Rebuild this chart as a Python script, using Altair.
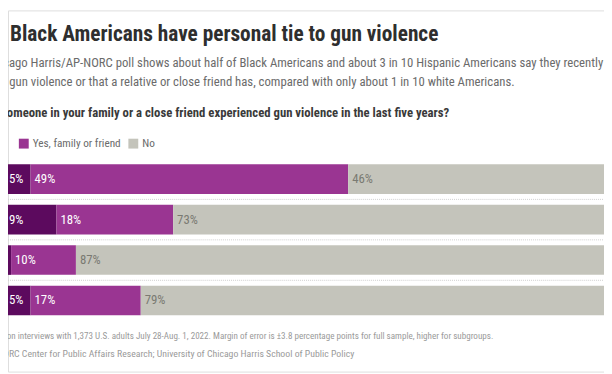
import altair as alt
import pandas as pd

# ---- data -------------------------------------------------------------
groups = ["Black", "Hispanic", "White", "Total"]
series = ["Yes, self", "Yes, family or friend", "No"]
self_vals = [5, 9, 2, 5]
family_vals = [49, 18, 10, 17]
no_vals = [46, 73, 87, 79]
colors = ["#5c0a5e", "#9a3592", "#c4c4bb"]

title_txt = "f Black Americans have personal tie to gun violence"
sub1_txt = "icago Harris/AP-NORC poll shows about half of Black Americans and about 3 in 10 Hispanic Americans say they recently have"
sub2_txt = "d gun violence or that a relative or close friend has, compared with only about 1 in 10 white Americans."
question_txt = "someone in your family or a close friend experienced gun violence in the last five years?"
note_txt = "d on interviews with 1,373 U.S. adults July 28-Aug. 1, 2022. Margin of error is \u00b13.8 percentage points for full sample, higher for subgroups."
source_txt = "ORC Center for Public Affairs Research; University of Chicago Harris School of Public Policy"

rows = []
for i, g in enumerate(groups):
    start = 0
    for s, vals in zip(series, [self_vals, family_vals, no_vals]):
        v = vals[i]
        rows.append({"group": g, "series": s, "value": v, "start": start,
                     "end": start + v, "label": f"{v}%" if v >= 4 else ""})
        start += v
df = pd.DataFrame(rows)

FONT = "Roboto Condensed, Liberation Sans Narrow, DejaVu Sans Condensed, sans-serif"
W, H = 604, 366

xs = alt.Scale(domain=[0, 100], range=[-10, 647])
ys = alt.Scale(domain=groups, range=[150.5, 314.5], paddingInner=11 / 41, paddingOuter=5.5 / 41)
cs = alt.Scale(domain=series, range=colors)

base = alt.Chart(df)

bars = base.mark_bar().encode(
    x=alt.X("start:Q", scale=xs, axis=None),
    x2="end:Q",
    y=alt.Y("group:N", scale=ys, axis=None, sort=groups),
    color=alt.Color("series:N", scale=cs, legend=None),
)


def seg_labels(sel, dx, color):
    return base.transform_filter(sel).mark_text(
        align="left", baseline="middle", dx=dx, font=FONT, fontSize=13, color=color
    ).encode(
        x=alt.X("start:Q", scale=xs),
        y=alt.Y("group:N", scale=ys, sort=groups),
        text="label:N",
    )


lab_self = seg_labels(alt.datum.series == "Yes, self", 11, "white")
lab_fam = seg_labels(alt.datum.series == "Yes, family or friend", 4, "white")
lab_no = seg_labels(alt.datum.series == "No", 4, "#7a7a72")

rules = alt.Chart(pd.DataFrame({"group": groups[:-1]})).mark_rule(
    strokeDash=[1, 1], color="#cfcfcf", yOffset=20.5
).encode(
    y=alt.Y("group:N", scale=ys, sort=groups),
    x=alt.value(0),
    x2=alt.value(W),
)


def txt(s, x, y, size, color, weight="normal", align="left"):
    return alt.Chart(pd.DataFrame({"t": [s]})).mark_text(
        align=align, baseline="alphabetic", font=FONT, fontSize=size,
        fontWeight=weight, color=color
    ).encode(x=alt.value(x), y=alt.value(y), text="t:N")


def square(x, y, color):
    return alt.Chart(pd.DataFrame({"t": [0]})).mark_rect(color=color).encode(
        x=alt.value(x), x2=alt.value(x + 10), y=alt.value(y), y2=alt.value(y + 10)
    )


layers = [
    bars, lab_self, lab_fam, lab_no, rules,
    txt(title_txt, -10, 31, 21.6, "#2e2e2e", "bold"),
    txt(sub1_txt, -8, 57, 12.9, "#6b6b6b"),
    txt(sub2_txt, -8, 77, 12.9, "#6b6b6b"),
    txt(question_txt, -7, 108, 12.9, "#3a3a3a", "bold"),
    txt("Yes, self", -2, 138, 11.4, "#6b6b6b", align="right"),
    square(11, 130, colors[1]),
    txt("Yes, family or friend", 25, 138, 11.4, "#6b6b6b"),
    square(122, 130, colors[2]),
    txt("No", 136, 138, 11.4, "#6b6b6b"),
    txt(note_txt, -8, 333, 9.2, "#9a9a9a"),
    txt(source_txt, -5, 351, 9.9, "#9a9a9a"),
]

chart = alt.layer(*layers).properties(
    width=W, height=H, padding=0, autosize=alt.AutoSizeParams(type="none")
).configure_view(stroke=None).configure(background="white")

chart.save("out.html", embed_options={"renderer": "svg", "actions": False})
